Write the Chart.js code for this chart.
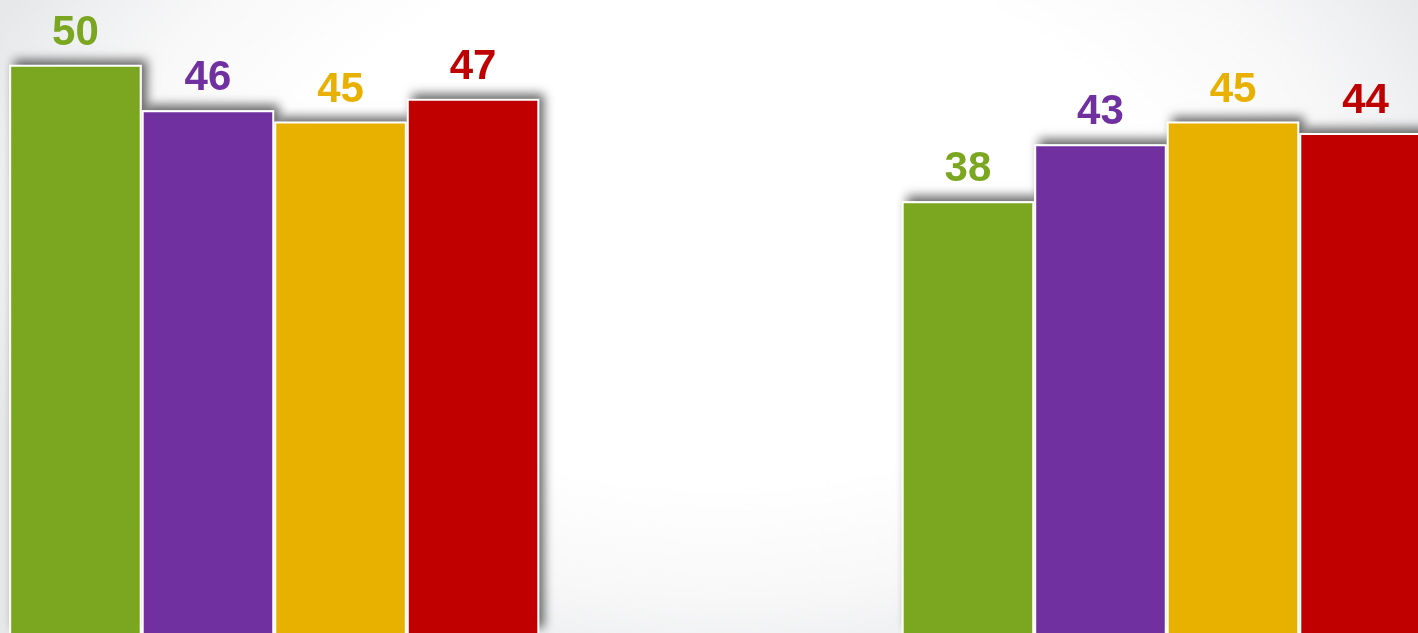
<!DOCTYPE html>
<html>
<head>
<meta charset="utf-8">
<script src="https://cdn.jsdelivr.net/npm/chart.js@4/dist/chart.umd.min.js"></script>
<style>
  html, body { margin: 0; padding: 0; width: 1418px; height: 633px; overflow: hidden; }
  body { background: radial-gradient(ellipse 790px 480px at 720px 220px, #ffffff 0%, #ffffff 55%, #f8f8f9 78%, #eff0f1 90%, #e7e8ea 100%); position: relative; }
  #wrap { position: absolute; left: -172px; top: 0; width: 1785px; height: 633px; }
</style>
</head>
<body>
<div id="wrap"><canvas id="c"></canvas></div>
<script>
const categories = ['Group 1', 'Group 2'];
const seriesNames = ['Series 1', 'Series 2', 'Series 3', 'Series 4'];
const series1 = [50, 38];
const series2 = [46, 43];
const series3 = [45, 45];
const series4 = [47, 44];
const colors = ['#7BA61F', '#7030A0', '#E8B100', '#C00000'];

const shadowPlugin = {
  id: 'barShadow',
  beforeDatasetsDraw(chart) {
    const ctx = chart.ctx;
    ctx.save();
    ctx.shadowColor = 'rgba(0,0,0,0.6)';
    ctx.shadowBlur = 10;
    ctx.shadowOffsetX = 5;
    ctx.shadowOffsetY = -5;
    ctx.fillStyle = '#ffffff';
    chart.data.datasets.forEach((ds, i) => {
      chart.getDatasetMeta(i).data.forEach(el => {
        const p = el.getProps(['x', 'y', 'base', 'width'], true);
        ctx.fillRect(p.x - p.width / 2, p.y, p.width, p.base - p.y);
      });
    });
    ctx.restore();
  }
};

const labelPlugin = {
  id: 'valueLabels',
  afterDatasetsDraw(chart) {
    const ctx = chart.ctx;
    ctx.save();
    ctx.font = 'bold 42px "Liberation Sans", Arial, sans-serif';
    ctx.textAlign = 'center';
    ctx.textBaseline = 'alphabetic';
    chart.data.datasets.forEach((ds, i) => {
      ctx.fillStyle = ds.backgroundColor;
      chart.getDatasetMeta(i).data.forEach((el, j) => {
        const p = el.getProps(['x', 'y'], true);
        ctx.fillText(String(ds.data[j]), p.x, p.y - 20);
      });
    });
    ctx.restore();
  }
};

const allSeries = [series1, series2, series3, series4];
new Chart(document.getElementById('c'), {
  type: 'bar',
  data: {
    labels: categories,
    datasets: allSeries.map((d, i) => ({
      label: seriesNames[i],
      data: d,
      backgroundColor: colors[i],
      borderColor: '#ffffff',
      borderWidth: 2,
      borderSkipped: 'bottom',
      categoryPercentage: 0.594,
      barPercentage: 1.0
    }))
  },
  options: {
    responsive: true,
    maintainAspectRatio: false,
    animation: false,
    layout: { padding: 0 },
    plugins: { legend: { display: false }, tooltip: { enabled: false } },
    scales: {
      x: { display: false, grid: { display: false } },
      y: { display: false, min: 0, max: 55.7, grid: { display: false } }
    }
  },
  plugins: [shadowPlugin, labelPlugin]
});
</script>
</body>
</html>
